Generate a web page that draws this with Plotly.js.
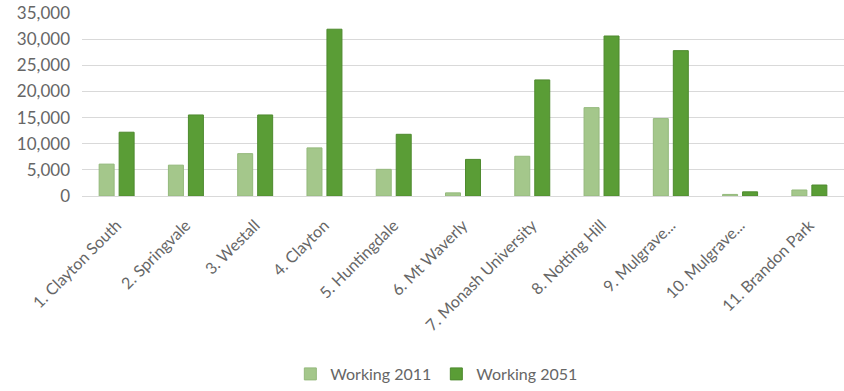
<!DOCTYPE html>
<html>
<head>
<meta charset="utf-8">
<script src="https://cdn.plot.ly/plotly-3.0.1.min.js"></script>
<style>html,body{margin:0;padding:0;background:#fff;}#chart{width:844px;height:391px;}</style>
</head>
<body>
<div id="chart"></div>
<script>
const categories = ["1. Clayton South", "2. Springvale", "3. Westall", "4. Clayton", "5. Huntingdale", "6. Mt Waverly", "7. Monash University", "8. Notting Hill", "9. Mulgrave...", "10. Mulgrave...", "11. Brandon Park"];
const working2011 = [6100, 5900, 8100, 9200, 5100, 600, 7600, 16900, 14800, 300, 1150];
const working2051 = [12200, 15500, 15500, 31900, 11800, 7000, 22200, 30600, 27800, 800, 2100];
const seriesNames = ["Working 2011", "Working 2051"];
const yTicks = [0, 5000, 10000, 15000, 20000, 25000, 30000, 35000];

const font = "Lato, 'Open Sans', sans-serif";
const traces = [
  {type: "bar", name: seriesNames[0], x: categories, y: working2011,
   marker: {color: "#a4c78b", line: {color: "#94b97c", width: 1}}},
  {type: "bar", name: seriesNames[1], x: categories, y: working2051,
   marker: {color: "#5a9d36", line: {color: "#4e8a2e", width: 1}}}
];
const layout = {
  width: 844, height: 391,
  margin: {l: 82, r: 0, t: 13, b: 194},
  paper_bgcolor: "#fff", plot_bgcolor: "#fff",
  font: {family: font, size: 16, color: "#666"},
  barmode: "group", bargap: 0.423, bargroupgap: 0.25,
  showlegend: true,
  legend: {orientation: "h", x: 0.465, xanchor: "center", y: -0.975, yanchor: "middle",
           font: {family: font, size: 16, color: "#666"}, itemwidth: 30, traceorder: "normal"},
  xaxis: {type: "category", tickangle: -45, showgrid: false, showline: false, zeroline: false,
          ticks: "", tickfont: {family: font, size: 16, color: "#666"}, ticklabelstandoff: 16},
  yaxis: {range: [0, 35000], tickvals: yTicks, tickformat: ",d", showgrid: true, gridcolor: "#d9d9d9",
          gridwidth: 1, zeroline: true, zerolinecolor: "#d9d9d9", showline: false, ticks: "",
          tickfont: {family: font, size: 17, color: "#666"}, ticklabelstandoff: 11}
};
Plotly.newPlot("chart", traces, layout, {displayModeBar: false, staticPlot: true});
</script>
</body>
</html>
